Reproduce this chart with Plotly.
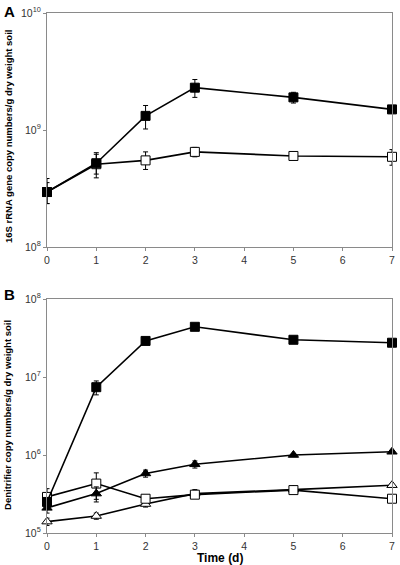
import plotly.graph_objects as go

days = [0, 1, 2, 3, 5, 7]

# Panel A: 16S rRNA gene copies
a_filled = [2.95e8, 5.2e8, 1.32e9, 2.3e9, 1.9e9, 1.5e9]
a_filled_up = [0.6e8, 1.0e8, 0.3e9, 0.4e9, 0.2e9, 0.1e9]
a_filled_dn = [0.6e8, 1.0e8, 0.3e9, 0.4e9, 0.2e9, 0.1e9]
a_open = [2.95e8, 5.1e8, 5.5e8, 6.5e8, 6.0e8, 5.9e8]
a_open_up = [0.9e8, 1.3e8, 1.0e8, 0.6e8, 0.2e8, 0.9e8]
a_open_dn = [0.6e8, 1.2e8, 0.9e8, 0.6e8, 0.2e8, 0.9e8]

# Panel B: denitrifier copies
b_sq_filled = [2.5e5, 7.4e6, 2.9e7, 4.4e7, 3.0e7, 2.75e7]
b_sq_filled_err = [0.3e5, 1.5e6, 2.5e6, 4e6, 1.5e6, 1.5e6]
b_tri_filled = [2.1e5, 3.2e5, 5.8e5, 7.6e5, 1.0e6, 1.1e6]
b_tri_filled_err = [0.3e5, 0.7e5, 0.6e5, 0.8e5, 0.4e5, 0.4e5]
b_sq_open = [2.9e5, 4.3e5, 2.75e5, 3.1e5, 3.55e5, 2.75e5]
b_sq_open_err = [0.8e5, 1.6e5, 0.2e5, 0.3e5, 0.3e5, 0.2e5]
b_tri_open = [1.4e5, 1.65e5, 2.35e5, 3.2e5, 3.6e5, 4.1e5]
b_tri_open_err = [0.15e5, 0.15e5, 0.2e5, 0.4e5, 0.2e5, 0.2e5]

x_ticks = [0, 1, 2, 3, 4, 5, 6, 7]
a_tickvals = [1e8, 1e9, 1e10]
a_ticktext = ["10<sup>8</sup>", "10<sup>9</sup>", "10<sup>10</sup>"]
b_tickvals = [1e5, 1e6, 1e7, 1e8]
b_ticktext = ["10<sup>5</sup>", "10<sup>6</sup>", "10<sup>7</sup>", "10<sup>8</sup>"]

fig = go.Figure()


def add(x, y, up, dn, symbol, fill, xa, ya):
    fig.add_trace(go.Scatter(
        x=x, y=y, mode="lines+markers", xaxis=xa, yaxis=ya,
        line=dict(color="black", width=1.6),
        marker=dict(symbol=symbol, size=9, color=fill,
                    line=dict(color="black", width=1)),
        error_y=dict(type="data", symmetric=False, array=up, arrayminus=dn,
                     color="black", thickness=1, width=2.5),
        cliponaxis=False, showlegend=False))


add(days, a_open, a_open_up, a_open_dn, "square", "white", "x", "y")
add(days, a_filled, a_filled_up, a_filled_dn, "square", "black", "x", "y")

add(days, b_tri_open, b_tri_open_err, b_tri_open_err, "triangle-up", "white", "x2", "y2")
add(days, b_sq_open, b_sq_open_err, b_sq_open_err, "square", "white", "x2", "y2")
add(days, b_tri_filled, b_tri_filled_err, b_tri_filled_err, "triangle-up", "black", "x2", "y2")
add(days, b_sq_filled, b_sq_filled_err, b_sq_filled_err, "square", "black", "x2", "y2")

axis_common = dict(showline=True, linecolor="#8a8a8a", linewidth=1.2, mirror=True,
                   showgrid=False, zeroline=False, ticks="outside", tickcolor="#8a8a8a",
                   ticklen=3, tickfont=dict(family="Liberation Sans, Arial", size=10.5, color="#333"))

fig.update_layout(
    width=400, height=565,
    margin=dict(l=47, r=5, t=13, b=32),
    paper_bgcolor="white", plot_bgcolor="white",
    xaxis=dict(domain=[0, 1], range=[0, 7], tickvals=x_ticks, anchor="y", **axis_common),
    yaxis=dict(domain=[0.55, 1.0], type="log", range=[8, 10], tickvals=a_tickvals,
               ticktext=a_ticktext, anchor="x", **axis_common),
    xaxis2=dict(domain=[0, 1], range=[0, 7], tickvals=x_ticks, anchor="y2", **axis_common),
    yaxis2=dict(domain=[0, 0.45], type="log", range=[5, 8], tickvals=b_tickvals,
                ticktext=b_ticktext, anchor="x2", **axis_common),
    font=dict(family="Liberation Sans, Arial", color="black"),
)

fig.add_annotation(text="<b>A</b>", x=0, y=1.0 + 12 / 520, xref="paper", yref="paper",
                   xshift=-47 + 2, showarrow=False, xanchor="left", yanchor="top",
                   font=dict(size=15, color="black"))
fig.add_annotation(text="<b>B</b>", x=0, y=(533 - 284) / 520, xref="paper", yref="paper",
                   xshift=-47 + 2, showarrow=False, xanchor="left", yanchor="top",
                   font=dict(size=15, color="black"))
fig.add_annotation(text="<b>16S rRNA gene copy numbers/g dry weight soil</b>", x=0,
                   y=0.7615, xref="paper", yref="paper", xshift=-39, showarrow=False,
                   textangle=-90, xanchor="center", yanchor="middle",
                   font=dict(size=9.5, color="black"))
fig.add_annotation(text="<b>Denitrifier copy numbers/g dry weight soil</b>", x=0,
                   y=0.227, xref="paper", yref="paper", xshift=-39, showarrow=False,
                   textangle=-90, xanchor="center", yanchor="middle",
                   font=dict(size=9.5, color="black"))
fig.add_annotation(text="<b>Time (d)</b>", x=0.5, y=0, xref="paper", yref="paper",
                   yshift=-25, showarrow=False, xanchor="center", yanchor="middle",
                   font=dict(size=12, color="black"))

fig.write_html("out.html", config={"displayModeBar": False},
               post_script="document.body.style.margin='0';document.body.style.overflow='hidden';")
